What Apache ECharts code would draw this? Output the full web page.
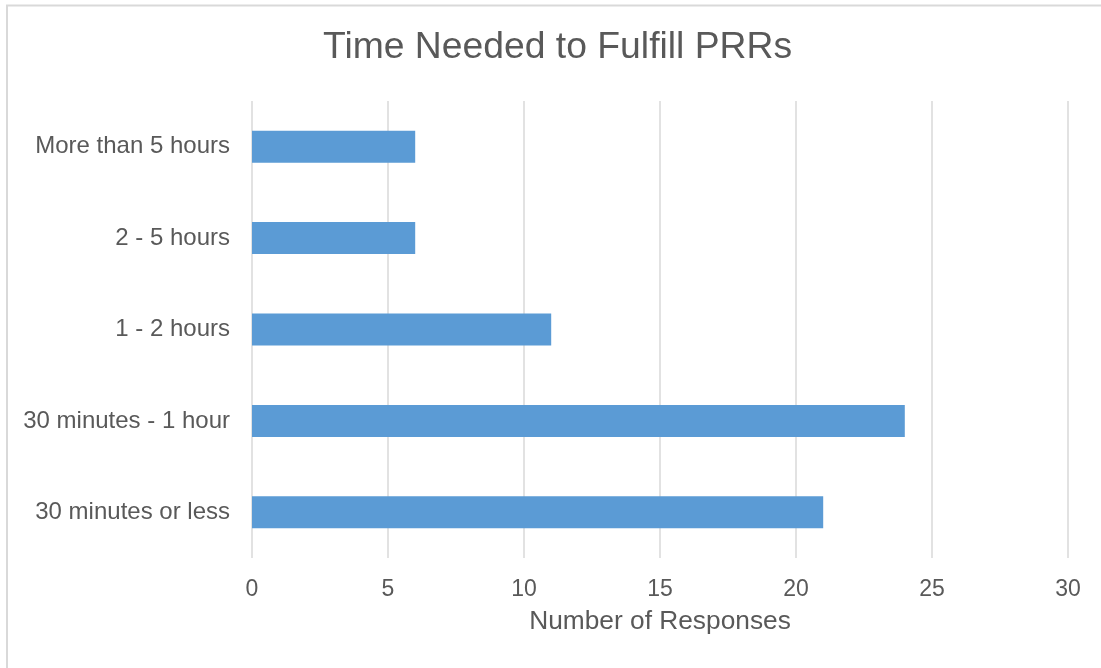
<!DOCTYPE html>
<html>
<head>
<meta charset="utf-8">
<script src="https://cdn.jsdelivr.net/npm/echarts@6/dist/echarts.min.js"></script>
<style>
  html, body { margin: 0; padding: 0; background: #ffffff; }
  #chart { width: 1101px; height: 668px; }
</style>
</head>
<body>
<div id="chart"></div>
<script>
// Response-time buckets, listed top to bottom
const categories = [
  'More than 5 hours',
  '2 - 5 hours',
  '1 - 2 hours',
  '30 minutes - 1 hour',
  '30 minutes or less'
];
// Number of responses for each bucket
const responses = [6, 6, 11, 24, 21];
// Value axis range and step
const axisMin = 0;
const axisMax = 30;
const axisStep = 5;

const textColor = '#595959';
const fontFamily = '"Liberation Sans", Arial, sans-serif';

const chart = echarts.init(document.getElementById('chart'), null, { renderer: 'canvas' });
chart.setOption({
  backgroundColor: '#ffffff',
  animation: false,
  title: {
    text: 'Time Needed to Fulfill PRRs',
    left: 323,
    top: 29,
    padding: 0,
    textStyle: { color: textColor, fontSize: 37.3, fontWeight: 'normal', fontFamily: fontFamily }
  },
  graphic: [{
    type: 'rect',
    shape: { x: 7, y: 5.5, width: 1300, height: 900 },
    style: { fill: 'none', stroke: '#d9d9d9', lineWidth: 2 },
    silent: true
  }],
  grid: { left: 252, right: 33, top: 101, bottom: 110, containLabel: false },
  xAxis: {
    type: 'value',
    min: axisMin,
    max: axisMax,
    interval: axisStep,
    name: 'Number of Responses',
    nameLocation: 'middle',
    nameGap: 51,
    nameTextStyle: { color: textColor, fontSize: 26.3, fontFamily: fontFamily },
    axisLine: { show: false },
    axisTick: { show: false },
    axisLabel: { color: textColor, fontSize: 23, fontFamily: fontFamily, margin: 20 },
    splitLine: { show: true, lineStyle: { color: '#d9d9d9', width: 1.5 } }
  },
  yAxis: {
    type: 'category',
    data: categories,
    inverse: true,
    axisLine: { show: false },
    axisTick: { show: false },
    axisLabel: {
      color: textColor, fontSize: 24, fontFamily: fontFamily, margin: 22,
      padding: [8, 0, 0, 0]
    },
    splitLine: { show: false }
  },
  series: [{
    type: 'bar',
    data: responses,
    barWidth: 32,
    itemStyle: { color: '#5b9bd5' },
    silent: true
  }]
});
</script>
</body>
</html>
